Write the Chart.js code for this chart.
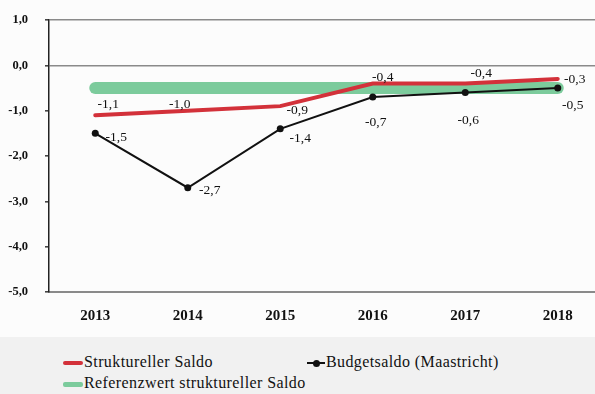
<!DOCTYPE html>
<html>
<head>
<meta charset="utf-8">
<script src="https://cdn.jsdelivr.net/npm/chart.js@4.4.1/dist/chart.umd.min.js"></script>
<style>
  html, body {
    margin: 0; padding: 0; width: 595px; height: 394px; overflow: hidden;
    background: linear-gradient(#fcfcfc 0 337px, #f1f1f1 337px);
    font-family: "Liberation Serif", serif;
  }
  #wrap { position: absolute; left: 0; top: 0; width: 604px; height: 337px; }
  .leg { position: absolute; font-size: 16px; line-height: 18px; letter-spacing: 0.4px; color: #111; white-space: nowrap; }
  .sw { display: inline-block; vertical-align: middle; width: 20px; margin-right: 1px; position: relative; }
  .sw.red   { height: 4px; background: #d3313a; border-radius: 2px; }
  .sw.green { height: 5px; background: #7ccb9c; border-radius: 2px; }
  .sw.black { height: 2px; background: #111; width: 18px; }
  .sw.black::after {
    content: ''; position: absolute; left: 6px; top: -2.5px;
    width: 7px; height: 7px; border-radius: 50%; background: #111;
  }
</style>
</head>
<body>
<div id="wrap"><canvas id="chart"></canvas></div>

<div class="leg" style="left:63px; top:353px"><span class="sw red"></span>Struktureller Saldo</div>
<div class="leg" style="left:307px; top:353px"><span class="sw black"></span>Budgetsaldo (Maastricht)</div>
<div class="leg" style="left:63px; top:374px"><span class="sw green"></span>Referenzwert struktureller Saldo</div>

<script>
// ── Data ──────────────────────────────────────────────────────────────────
const years       = ['2013', '2014', '2015', '2016', '2017', '2018'];
const strukturell = [-1.1, -1.0, -0.9, -0.4, -0.4, -0.3];
const budget      = [-1.5, -2.7, -1.4, -0.7, -0.6, -0.5];
const referenz    = [-0.5, -0.5, -0.5, -0.5, -0.5, -0.5];
const yMin = -5, yMax = 1, yStep = 1;

// value label nudges (px) relative to each point
const redNudge   = [[13, -11], [-8, -6], [17, 4], [10, -6], [16, -10], [17, 1]];
const blackNudge = [[21, 4], [22, 3], [20, 10], [3, 25], [3, 28], [15, 17]];

const SERIF = '"Liberation Serif", "Times New Roman", serif';
const fmt = v => v.toFixed(1).replace('.', ',');

// ── Value labels plugin ───────────────────────────────────────────────────
const valueLabels = {
  id: 'valueLabels',
  afterDatasetsDraw(chart) {
    const ctx = chart.ctx;
    ctx.save();
    ctx.font = `13.5px ${SERIF}`;
    ctx.fillStyle = '#111';
    ctx.textAlign = 'center';
    ctx.textBaseline = 'middle';
    [[1, redNudge], [2, blackNudge]].forEach(([i, nudge]) => {
      const vals = chart.data.datasets[i].data;
      chart.getDatasetMeta(i).data.forEach((pt, j) => {
        ctx.fillText(fmt(vals[j]), pt.x + nudge[j][0], pt.y + nudge[j][1]);
      });
    });
    ctx.restore();
  },
};

// ── Chart ─────────────────────────────────────────────────────────────────
new Chart(document.getElementById('chart'), {
  type: 'line',
  data: {
    labels: years,
    datasets: [
      {
        label: 'Referenzwert struktureller Saldo',
        data: referenz,
        borderColor: '#7ccb9c',
        borderWidth: 12,
        borderCapStyle: 'round',
        pointRadius: 0,
        order: 3,
      },
      {
        label: 'Struktureller Saldo',
        data: strukturell,
        borderColor: '#d3313a',
        borderWidth: 4,
        borderCapStyle: 'round',
        pointRadius: 0,
        order: 2,
      },
      {
        label: 'Budgetsaldo (Maastricht)',
        data: budget,
        borderColor: '#111',
        backgroundColor: '#111',
        borderWidth: 2,
        pointRadius: 3.5,
        pointBorderWidth: 0,
        order: 1,
      },
    ],
  },
  options: {
    responsive: true,
    maintainAspectRatio: false,
    animation: false,
    layout: { autoPadding: false, padding: { top: 20, right: 0, left: 0, bottom: 0 } },
    plugins: { legend: { display: false }, tooltip: { enabled: false } },
    elements: { line: { tension: 0 } },
    scales: {
      x: {
        offset: true,
        grid: { drawOnChartArea: false, drawTicks: false },
        border: { color: '#8a8a8a', width: 2 },
        ticks: { color: '#111', padding: 15, font: { family: SERIF, size: 15, weight: 'bold' } },
        afterFit: s => { s.height = 45; },
      },
      y: {
        min: yMin, max: yMax,
        ticks: {
          stepSize: yStep,
          color: '#111',
          padding: 17,
          font: { family: SERIF, size: 12.5, weight: 'bold' },
          callback: v => fmt(v),
        },
        grid: {
          color: c => (c.tick && (c.tick.value === 0 || c.tick.value === yMax)) ? '#8a8a8a' : 'transparent',
          lineWidth: 1.6,
          tickColor: '#444',
          tickLength: 4,
        },
        border: { color: '#222', width: 1.5 },
        afterFit: s => { s.width = 49; s.paddingTop = 0; },
      },
    },
  },
  plugins: [valueLabels],
});
</script>
</body>
</html>
